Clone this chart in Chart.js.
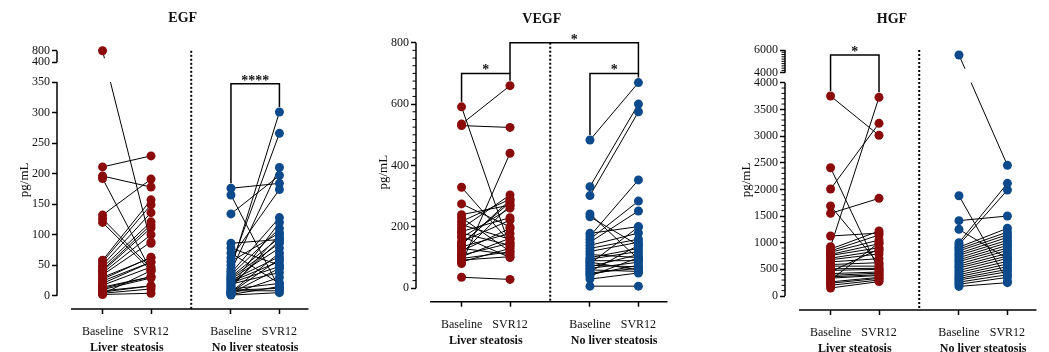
<!DOCTYPE html>
<html>
<head>
<meta charset="utf-8">
<title>EGF, VEGF, HGF</title>
<script src="https://cdn.jsdelivr.net/npm/chart.js@4.4.0/dist/chart.umd.min.js"></script>
<style>
html, body { margin: 0; padding: 0; background: #fff; overflow: hidden; }
body { width: 1049px; height: 352px; position: relative; }
.panel { position: absolute; top: 0; height: 352px; }
</style>
</head>
<body>
<div class="panel" id="egf"><canvas></canvas></div>
<div class="panel" id="vegf"><canvas></canvas></div>
<div class="panel" id="hgf"><canvas></canvas></div>

<script>
// groups and time points
const groups = ['Liver steatosis', 'No liver steatosis'];
const timepoints = ['Baseline', 'SVR12'];

// EGF, pg/mL (paired: same index = same patient)
const egfLiverBaseline = [800, 211, 196, 192, 132, 126, 120, 58, 55, 50, 46, 42, 40, 37, 34, 30, 27, 24, 20, 17, 14, 12, 10, 8, 6, 4, 3, 2];
const egfLiverSvr12    = [86, 229, 178, 41, 191, 45, 41, 157, 149, 136, 121, 116, 111, 100, 88, 62, 63, 55, 55, 47, 31, 31, 29, 16, 16, 11, 41, 4];
const egfNoLiverBaseline = [176, 165, 134, 86, 78, 70, 62, 56, 50, 44, 40, 37, 34, 31, 29, 27, 25, 23, 21, 19, 17, 15, 13, 11, 9, 8, 6, 5, 4, 3, 2, 1];
const egfNoLiverSvr12    = [184, 12, 197, 92, 50, 20, 174, 103, 266, 301, 210, 128, 110, 95, 86, 78, 64, 56, 48, 38, 90, 120, 100, 20, 12, 8, 70, 60, 45, 30, 15, 5];

// VEGF, pg/mL
const vegfLiverBaseline = [591, 535, 530, 329, 275, 240, 230, 218, 207, 195, 185, 180, 170, 165, 152, 145, 141, 135, 130, 122, 114, 108, 103, 97, 92, 86, 81, 36];
const vegfLiverSvr12    = [135, 660, 524, 150, 200, 271, 120, 290, 160, 304, 230, 140, 100, 261, 222, 280, 288, 179, 110, 195, 270, 147, 163, 119, 103, 130, 440, 29];
const vegfNoLiverBaseline = [483, 331, 302, 242, 233, 179, 170, 160, 150, 140, 130, 120, 110, 100, 95, 90, 85, 80, 75, 70, 65, 60, 55, 50, 45, 40, 30, 7];
const vegfNoLiverSvr12    = [670, 600, 575, 95, 140, 201, 353, 284, 252, 180, 160, 150, 100, 130, 120, 90, 60, 200, 70, 110, 85, 55, 140, 65, 75, 100, 50, 7];

// HGF, pg/mL
const hgfLiverBaseline = [3750, 2406, 2006, 1688, 1550, 1125, 925, 880, 845, 820, 780, 760, 710, 680, 640, 590, 560, 510, 480, 455, 420, 385, 360, 335, 300, 265, 240, 200, 150];
const hgfLiverSvr12    = [3013, 480, 3238, 600, 1831, 1180, 3725, 1219, 1144, 1050, 980, 905, 850, 790, 700, 625, 560, 520, 500, 880, 450, 430, 400, 385, 1000, 350, 330, 300, 270];
const hgfNoLiverBaseline = [5560, 1881, 1413, 1250, 1000, 960, 915, 880, 845, 800, 765, 720, 680, 645, 600, 560, 525, 480, 440, 400, 365, 330, 300, 260, 220, 180];
const hgfNoLiverSvr12    = [2450, 280, 1500, 700, 2113, 1988, 1270, 1200, 1150, 1100, 1045, 1000, 950, 900, 855, 800, 750, 705, 650, 600, 550, 500, 455, 400, 350, 250];

// y tick labels
const egfTicks = [0, 50, 100, 150, 200, 250, 300, 350, 400, 800];
const vegfTicks = [0, 200, 400, 600, 800];
const hgfTicksLow = [0, 500, 1000, 1500, 2000, 2500, 3000, 3500, 4000];
const hgfTicksHigh = [4000, 6000];

// significance brackets: pair = column indexes (0..3), at = bracket height
const egfBrackets = [{ pair: [2, 3], at: 347, label: '****' }];
const vegfBrackets = [
  { pair: [0, 1], at: 700, label: '*' },
  { pair: [2, 3], at: 700, label: '*' },
  { pair: [1, 3], at: 800, label: '*', legs: [700, 700] }
];
const hgfBrackets = [{ pair: [0, 1], at: 5560, label: '*' }];

const FONT = "'Liberation Serif', 'DejaVu Serif', serif";
const RED = '#8b0b0b';
const BLUE = '#0d4a8c';
const colColors = [RED, RED, BLUE, BLUE];
const colPos = [1, 2, 3.65, 4.65];
const sepPos = 2.83;
const axisStart = 0.35;
const xMin = 0.06, xMax = 5.25;

// y axis with a break: values above `at` go to the upper segment
class BrokenScale extends Chart.LinearScale {
  static id = 'broken';
  pixelFor(v, upper) {
    if (v === null || v === undefined || isNaN(v)) return NaN;
    const b = this.options.breakAxis;
    if (upper === undefined) upper = v > b.at;
    const f = upper
      ? b.highBottom + (v - b.resume) / (this.max - b.resume) * (1 - b.highBottom)
      : (v - this.min) / (b.at - this.min) * b.lowTop;
    return this.getPixelForDecimal(f);
  }
  getPixelForValue(v) { return this.pixelFor(v); }
  getPixelForTick(i) {
    const t = this.ticks[i];
    return t ? this.pixelFor(t.value, t.upper) : NaN;
  }
  getValueForPixel(px) {
    const b = this.options.breakAxis;
    const f = this.getDecimalForPixel(px);
    if (f <= b.lowTop) return this.min + f / b.lowTop * (b.at - this.min);
    return b.resume + (f - b.highBottom) / (1 - b.highBottom) * (this.max - b.resume);
  }
}
Chart.register(BrokenScale);

// x ticks: time points plus group name under each pair
const xTicks = [];
groups.forEach((g, k) => {
  const a = colPos[2 * k], b = colPos[2 * k + 1];
  xTicks.push({ value: a, label: timepoints[0] });
  xTicks.push({ value: (a + b) / 2, label: ['', g], group: true });
  xTicks.push({ value: b, label: timepoints[1] });
});

const panels = [
  {
    id: 'egf', title: 'EGF',
    cols: [egfLiverBaseline, egfLiverSvr12, egfNoLiverBaseline, egfNoLiverSvr12],
    brackets: egfBrackets,
    ticks: egfTicks.map(v => ({ value: v })),
    y: { type: 'broken', min: -21.8, max: 800, breakAxis: { at: 350, resume: 400, lowTop: 0.879, highBottom: 0.9555 } },
    segments: [[0, 350, false], [400, 800, true]],
    minor: [],
    box: { left: 0, width: 313, padLeft: 0, yWidth: 57, yTitlePad: 17.2, titleTop: 10, titleBottom: 24, xHeight: 43, fullTitle: false }
  },
  {
    id: 'vegf', title: 'VEGF',
    cols: [vegfLiverBaseline, vegfLiverSvr12, vegfNoLiverBaseline, vegfNoLiverSvr12],
    brackets: vegfBrackets,
    ticks: vegfTicks.map(v => ({ value: v })),
    y: { type: 'linear', min: -43.6, max: 800 },
    segments: [[0, 800]],
    minor: [{ from: 0, to: 800, step: 25, skip: 200 }],
    box: { left: 360, width: 312, padLeft: 0, yWidth: 56, yTitlePad: 15.5, titleTop: 10.6, titleBottom: 15.3, xHeight: 50.3, fullTitle: false }
  },
  {
    id: 'hgf', title: 'HGF',
    cols: [hgfLiverBaseline, hgfLiverSvr12, hgfNoLiverBaseline, hgfNoLiverSvr12],
    brackets: hgfBrackets,
    ticks: hgfTicksLow.map(v => ({ value: v, upper: false })).concat(hgfTicksHigh.map(v => ({ value: v, upper: true }))),
    y: { type: 'broken', min: -262.5, max: 6000, breakAxis: { at: 4000, resume: 4000, lowTop: 0.8742, highBottom: 0.9127 } },
    segments: [[0, 4000, false], [4000, 6000, true]],
    minor: [{ from: 0, to: 4000, step: 100, skip: 500, upper: false }, { from: 4000, to: 6000, step: 200, skip: 2000, upper: true }],
    box: { left: 729, width: 312, padLeft: 14, yWidth: 42, yTitlePad: -3.8, titleTop: 10.6, titleBottom: 22.6, xHeight: 42, fullTitle: true }
  }
];

function decor(p) {
  const py = (y, v, up) => y.pixelFor ? y.pixelFor(v, up) : y.getPixelForValue(v);
  return {
    id: 'decor',
    beforeDatasetsDraw(chart) {
      const { ctx, chartArea: ca, scales: { x } } = chart;
      const sx = x.getPixelForValue(sepPos);
      ctx.save();
      ctx.strokeStyle = '#000';
      ctx.lineWidth = 2;
      ctx.setLineDash([2, 2]);
      ctx.beginPath();
      ctx.moveTo(sx, ca.top);
      ctx.lineTo(sx, ca.bottom);
      ctx.stroke();
      ctx.restore();
    },
    // connecting lines are cut where the y axis is broken
    beforeDatasetDraw(chart, args) {
      const y = chart.scales.y;
      if (!y.pixelFor || args.meta.order !== 2) return;
      const b = y.options.breakAxis;
      const { ctx, width, height } = chart;
      const gapTop = y.pixelFor(b.resume, true) - 4;
      const gapBottom = y.pixelFor(b.at, false);
      ctx.save();
      ctx.beginPath();
      ctx.rect(0, 0, width, gapTop);
      ctx.rect(0, gapBottom, width, height - gapBottom);
      ctx.clip();
    },
    afterDatasetDraw(chart, args) {
      if (!chart.scales.y.pixelFor || args.meta.order !== 2) return;
      chart.ctx.restore();
    },
    afterDraw(chart) {
      const { ctx, chartArea: ca, scales: { x, y } } = chart;
      ctx.save();
      ctx.strokeStyle = '#000';
      ctx.lineWidth = 1.5;
      // axes
      ctx.beginPath();
      ctx.moveTo(x.getPixelForValue(axisStart), ca.bottom);
      ctx.lineTo(ca.right, ca.bottom);
      ctx.stroke();
      p.segments.forEach(([lo, hi, up]) => {
        ctx.beginPath();
        ctx.moveTo(ca.left, py(y, lo, up));
        ctx.lineTo(ca.left, py(y, hi, up));
        ctx.stroke();
      });
      // minor ticks
      ctx.lineWidth = 1;
      p.minor.forEach(m => {
        for (let v = m.from; v <= m.to; v += m.step) {
          if (v % m.skip === 0) continue;
          const yy = py(y, v, m.upper);
          ctx.beginPath();
          ctx.moveTo(ca.left - 3.5, yy);
          ctx.lineTo(ca.left, yy);
          ctx.stroke();
        }
      });
      // brackets
      ctx.lineWidth = 1.5;
      ctx.fillStyle = '#111';
      ctx.font = 'bold 14px ' + FONT;
      ctx.textAlign = 'center';
      ctx.textBaseline = 'alphabetic';
      p.brackets.forEach(br => {
        const [a, b] = br.pair;
        const xa = x.getPixelForValue(colPos[a]);
        const xb = x.getPixelForValue(colPos[b]);
        const yb = py(y, br.at);
        const leg = (c, k) => br.legs ? py(y, br.legs[k]) : py(y, Math.max(...p.cols[c])) - 5;
        ctx.beginPath();
        ctx.moveTo(xa, leg(a, 0));
        ctx.lineTo(xa, yb);
        ctx.lineTo(xb, yb);
        ctx.lineTo(xb, leg(b, 1));
        ctx.stroke();
        ctx.fillText(br.label, (xa + xb) / 2, yb + 1);
      });
      ctx.restore();
    }
  };
}

panels.forEach(p => {
  const holder = document.getElementById(p.id);
  holder.style.left = p.box.left + 'px';
  holder.style.width = p.box.width + 'px';

  const datasets = [];
  [[0, 1], [2, 3]].forEach(([a, b]) => {
    const seg = [];
    p.cols[a].forEach((v, i) => {
      seg.push({ x: colPos[a], y: v }, { x: colPos[b], y: p.cols[b][i] }, { x: colPos[b], y: null });
    });
    datasets.push({ data: seg, showLine: true, spanGaps: false, borderColor: '#000', borderWidth: 1, pointRadius: 0, order: 2 });
  });
  p.cols.forEach((vals, c) => {
    datasets.push({
      data: vals.map(v => ({ x: colPos[c], y: v })),
      showLine: false, pointRadius: 4.5, pointBorderWidth: 0,
      pointBackgroundColor: colColors[c], order: 1, clip: false
    });
  });

  new Chart(holder.querySelector('canvas'), {
    type: 'scatter',
    data: { datasets },
    options: {
      responsive: true,
      maintainAspectRatio: false,
      animation: false,
      events: [],
      layout: { padding: { left: p.box.padLeft, right: 0, top: 0, bottom: 0 } },
      plugins: {
        legend: { display: false },
        tooltip: { enabled: false },
        title: {
          display: true, text: p.title, fullSize: p.box.fullTitle, color: '#111',
          font: { family: FONT, size: 14, weight: 'bold' },
          padding: { top: p.box.titleTop, bottom: p.box.titleBottom }
        }
      },
      scales: {
        x: {
          type: 'linear', min: xMin, max: xMax, bounds: 'data',
          afterBuildTicks: s => { s.ticks = xTicks.map(t => Object.assign({}, t)); },
          afterFit: s => { s.height = p.box.xHeight; },
          border: { display: false },
          grid: {
            drawOnChartArea: false, tickLength: 5, tickWidth: 1.5,
            tickColor: ctx => (ctx.tick && ctx.tick.group) ? 'rgba(0,0,0,0)' : '#000'
          },
          ticks: {
            autoSkip: false, maxRotation: 0, padding: 10, color: '#111',
            font: ctx => ({ family: FONT, size: 12, weight: (ctx.tick && ctx.tick.group) ? 'bold' : 'normal', lineHeight: 1.35 }),
            callback: (v, i, ts) => ts[i].label
          }
        },
        y: Object.assign({}, p.y, {
          bounds: 'data',
          afterBuildTicks: s => { s.ticks = p.ticks.map(t => Object.assign({}, t)); },
          afterFit: s => { s.width = p.box.yWidth; },
          border: { display: false },
          grid: { drawOnChartArea: false, tickLength: 5, tickWidth: 1.5, tickColor: '#000' },
          ticks: { autoSkip: false, padding: 2, color: '#111', font: { family: FONT, size: 12 }, callback: v => String(v) },
          title: {
            display: true, text: 'pg/mL', color: '#111',
            font: { family: FONT, size: 13 },
            padding: { top: p.box.yTitlePad, bottom: 0 }
          }
        })
      }
    },
    plugins: [decor(p)]
  });
});
</script>
</body>
</html>
